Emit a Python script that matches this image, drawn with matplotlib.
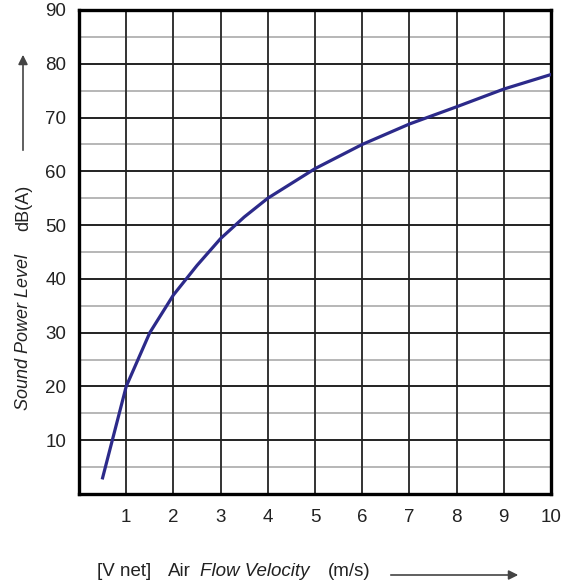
import numpy as np
import matplotlib
matplotlib.use("Agg")
import matplotlib.pyplot as plt

plt.rcParams['font.family'] = ['Liberation Sans', 'DejaVu Sans']

# curve
velocity = [0.5, 1.0, 1.5, 2.0, 2.5, 3.0, 3.5, 4.0, 5.0, 6.0, 7.0, 8.0, 9.0, 10.0]
sound_level = [3, 20, 30, 37, 42.5, 47.5, 51.5, 55, 60.5, 65, 68.8, 72, 75.3, 78]

x_ticks = list(range(1, 11))
y_ticks = list(range(10, 100, 10))

W, H = 577, 588
fig = plt.figure(figsize=(W / 100, H / 100), dpi=100)
ax = fig.add_axes([79 / W, 1 - 494 / H, (551 - 79) / W, (494 - 10) / H])

ax.set_xlim(0, 10)
ax.set_ylim(0, 90)

# grid: black every unit / 10 dB, grey at the 5 dB halves
for x in range(1, 10):
    ax.axvline(x, color='#333333', lw=1.4, zorder=1)
for y in range(10, 90, 10):
    ax.axhline(y, color='#222222', lw=1.4, zorder=1)
for y in range(5, 90, 10):
    ax.axhline(y, color='#aaaaaa', lw=1.2, zorder=0.5)

ax.plot(velocity, sound_level, color='#2c2a8a', lw=2.3, zorder=3)

for s in ax.spines.values():
    s.set_linewidth(2.4)
    s.set_color('black')

ax.set_xticks(x_ticks)
ax.set_yticks(y_ticks)
ax.tick_params(length=0, labelsize=13.5, colors='#222222')
ax.tick_params(axis='x', pad=11)
ax.tick_params(axis='y', pad=9)

# x label made of plain and italic parts, placed word by word
xparts = [("[V net]", 'normal', 97), ("Air", 'normal', 168),
          ("Flow Velocity", 'italic', 200), ("(m/s)", 'normal', 328)]
for txt, style, xp in xparts:
    fig.text(xp / W, 1 - 571 / H, txt, fontsize=13.5, style=style,
             color='#222222', va='center', ha='left')
ax.annotate('', xy=(521 / W, 1 - 575 / H), xytext=(388 / W, 1 - 575 / H),
            xycoords='figure fraction',
            arrowprops=dict(arrowstyle='-|>', color='#444444', lw=1.2,
                            mutation_scale=14))

# y label, bottom to top
yparts = [("Sound Power Level", 'italic', 410), ("dB(A)", 'normal', 231)]
for txt, style, yp in yparts:
    fig.text(24 / W, 1 - yp / H, txt, fontsize=13, style=style,
             color='#222222', rotation=90, va='bottom', ha='center')
ax.annotate('', xy=(23 / W, 1 - 52 / H), xytext=(23 / W, 1 - 153 / H),
            xycoords='figure fraction',
            arrowprops=dict(arrowstyle='-|>', color='#444444', lw=1.2,
                            mutation_scale=14))

fig.savefig('out.png', dpi=100)
